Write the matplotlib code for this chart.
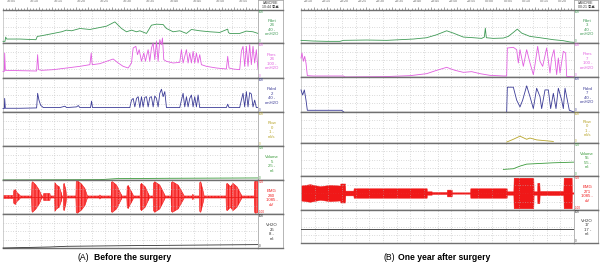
import numpy as np
import matplotlib
matplotlib.use('Agg')
import matplotlib.pyplot as plt

plt.rcParams['font.family'] = ['Liberation Sans', 'Noto Sans CJK KR', 'DejaVu Sans']
plt.rcParams['hatch.linewidth'] = 0.8

# ---- data (x in screen units read from the trace strip) ----
# (A) before the surgery
a_pdet_x = [9, 15, 17, 20, 60, 108, 112, 125, 160, 185, 200, 215, 240, 270, 300, 320, 345, 365, 380, 395, 410, 420,
            440, 455, 470, 490, 500, 520, 540, 560, 575, 600, 630, 660, 684, 686, 690, 720, 740, 760, 775]
a_pdet_y = [0.05, 0.05, 0.18, 0.12, 0.12, 0.10, 0.20, 0.22, 0.29, 0.34, 0.39, 0.37, 0.44, 0.41, 0.47, 0.51, 0.64,
            0.44, 0.34, 0.39, 0.34, 0.37, 0.29, 0.54, 0.57, 0.56, 0.44, 0.34, 0.37, 0.29, 0.41, 0.37, 0.34, 0.32, 0.42,
            0.32, 0.29, 0.29, 0.36, 0.34, 0.29]

a_pves_x = [9, 13, 14, 16, 60, 110, 113, 116, 125, 160, 200, 240, 270, 274, 277, 300, 320, 340, 355, 370, 385, 395,
            400, 408, 413, 418, 425, 432, 437, 440, 445, 450, 455, 460, 465, 470, 475, 480, 485, 488, 492, 500, 520,
            540, 545, 550, 555, 560, 565, 570, 575, 580, 585, 590, 595, 600, 605, 620, 650, 680, 684, 688, 700, 720,
            725, 730, 735, 740, 745, 750, 755, 760, 765, 770, 775]
a_pves_z = [215, 215, 160, 212, 213, 214, 165, 210, 212, 210, 205, 200, 195, 160, 195, 192, 185, 178, 190, 200, 205,
            190, 145, 140, 165, 150, 185, 160, 185, 170, 150, 185, 145, 130, 180, 125, 185, 120, 135, 115, 180, 185,
            190, 188, 150, 190, 170, 150, 190, 160, 190, 155, 190, 160, 190, 165, 195, 200, 205, 208, 170, 205, 208,
            210, 155, 140, 200, 140, 200, 135, 195, 140, 190, 150, 210]

a_pabd_x = [9, 13, 14, 16, 60, 110, 113, 117, 122, 130, 180, 195, 200, 230, 235, 240, 272, 275, 278, 300, 390, 395,
            400, 405, 410, 415, 420, 425, 430, 435, 440, 445, 450, 455, 460, 465, 470, 475, 480, 485, 490, 495, 500,
            540, 545, 550, 555, 560, 565, 570, 575, 580, 585, 590, 595, 600, 680, 684, 688, 720, 725, 730, 735, 740,
            745, 750, 755, 760, 765, 770, 775]
a_pabd_z = [325, 325, 295, 324, 324, 323, 280, 300, 315, 322, 322, 318, 322, 320, 316, 322, 322, 303, 322, 322, 322,
            300, 295, 320, 295, 290, 322, 290, 320, 292, 290, 320, 292, 290, 320, 288, 295, 320, 280, 268, 290, 275,
            322, 322, 300, 280, 320, 290, 320, 295, 285, 320, 290, 320, 285, 322, 322, 312, 322, 322, 300, 280, 320,
            275, 320, 278, 282, 320, 300, 322, 322]

a_vol_x = [9, 300, 350, 500, 775]
a_vol_y = [0.0, 0.01, 0.04, 0.05, 0.06]

a_emg_x = [9, 40, 41, 46, 52, 60, 61, 95, 96, 98, 108, 118, 125, 126, 130, 131, 150, 151, 164, 165, 170, 178, 185,
           186, 190, 191, 193, 198, 200, 228, 229, 232, 245, 255, 262, 263, 299, 300, 303, 334, 335, 338, 350, 365,
           366, 381, 382, 385, 400, 401, 421, 422, 425, 436, 448, 449, 460, 461, 465, 480, 495, 496, 514, 515, 518,
           535, 552, 553, 578, 579, 583, 599, 600, 603, 612, 613, 679, 680, 683, 692, 700, 712, 725, 726, 764, 765,
           768, 775]
a_emg_a = [0.04, 0.04, 0.18, 0.22, 0.12, 0.05, 0.03, 0.03, 0.42, 0.45, 0.35, 0.2, 0.05, 0.03, 0.03, 0.1, 0.1, 0.03,
           0.03, 0.42, 0.35, 0.3, 0.1, 0.03, 0.03, 0.38, 0.4, 0.2, 0.03, 0.03, 0.45, 0.48, 0.38, 0.25, 0.05, 0.03,
           0.03, 0.06, 0.03, 0.03, 0.44, 0.45, 0.35, 0.06, 0.03, 0.03, 0.3, 0.34, 0.06, 0.03, 0.03, 0.36, 0.4, 0.3,
           0.05, 0.03, 0.03, 0.4, 0.45, 0.35, 0.06, 0.03, 0.03, 0.42, 0.45, 0.35, 0.06, 0.03, 0.03, 0.08, 0.03, 0.03,
           0.42, 0.45, 0.1, 0.03, 0.03, 0.38, 0.4, 0.3, 0.4, 0.3, 0.06, 0.03, 0.03, 0.45, 0.48, 0.45]

a_vh2o_x = [9, 150, 200, 400, 775]
a_vh2o_y = [0.0, 0.03, 0.05, 0.07, 0.10]

# (B) one year after surgery
b_pdet_x = [3, 40, 80, 120, 130, 200, 260, 300, 340, 380, 410, 440, 460, 490, 520, 545, 553, 556, 559, 580, 610, 625,
            640, 652, 665, 690, 720, 760, 790, 810, 822]
b_pdet_z = [122, 124, 125, 125, 122, 121, 122, 120, 118, 114, 105, 93, 100, 112, 114, 116, 112, 85, 114, 116, 115,
            110, 98, 88, 100, 110, 114, 120, 123, 127, 128]

b_pves_x = [3, 6, 10, 14, 18, 22, 40, 130, 135, 250, 330, 380, 410, 440, 465, 490, 515, 540, 570, 610, 620, 622, 640,
            650, 655, 660, 670, 680, 690, 700, 705, 713, 720, 728, 740, 750, 755, 762, 770, 775, 780, 790, 797, 800,
            822]
b_pves_z = [175, 160, 185, 170, 190, 228, 229, 229, 232, 231, 228, 222, 212, 203, 212, 218, 216, 222, 227, 229, 229,
            145, 143, 150, 190, 150, 200, 150, 190, 225, 195, 140, 185, 200, 145, 220, 175, 150, 225, 175, 220, 155,
            160, 230, 232]

b_pabd_x = [3, 8, 13, 18, 22, 60, 125, 135, 300, 550, 554, 556, 558, 600, 620, 622, 640, 650, 660, 668, 680, 690, 700,
            710, 720, 725, 735, 745, 752, 760, 768, 775, 785, 790, 795, 800, 808, 822]
b_pabd_z = [270, 285, 270, 300, 330, 330, 330, 338, 337, 337, 340, 368, 340, 337, 337, 262, 262, 300, 320, 300, 258,
            290, 325, 265, 290, 325, 270, 270, 325, 280, 325, 265, 300, 325, 265, 290, 330, 335]

b_flow_x = [620, 640, 660, 680, 690, 710, 730, 760]
b_flow_y = [0.03, 0.12, 0.22, 0.12, 0.16, 0.10, 0.08, 0.05]

b_vol_x = [610, 640, 660, 680, 720, 760, 822]
b_vol_y = [0.20, 0.22, 0.30, 0.36, 0.38, 0.40, 0.42]

b_emg_x = [3, 30, 60, 90, 120, 121, 135, 136, 160, 161, 380, 381, 395, 396, 430, 440, 441, 455, 456, 510, 511, 620,
           621, 640, 641, 700, 701, 711, 712, 718, 719, 790, 791, 815, 816, 822]
b_emg_a = [0.22, 0.26, 0.2, 0.24, 0.22, 0.28, 0.28, 0.07, 0.07, 0.14, 0.14, 0.05, 0.05, 0.03, 0.03, 0.03, 0.1, 0.1,
           0.02, 0.02, 0.14, 0.14, 0.05, 0.05, 0.45, 0.45, 0.05, 0.05, 0.3, 0.3, 0.06, 0.06, 0.45, 0.45, 0.02, 0.02]

b_vh2o_x = [3, 822]
b_vh2o_y = [0.42, 0.42]

left_ticks = ['10:05', '10:10', '10:15', '10:20', '10:25', '10:30', '10:35', '10:40', '10:45', '10:50', '10:55']
right_ticks = ['23:10', '23:15', '23:20', '23:25', '23:30', '23:35', '23:40', '23:45', '23:50', '23:55', '00:00',
               '00:05', '00:10', '00:15', '00:20']

labels_a = ['Pdet\n24\n40 -\ncmH2O', 'Pves\n24\n100 -\ncmH2O', 'Pabd\n2\n40 -\ncmH2O', 'Flow\n0\n1 -\nml/s',
            'Volume\n5\n25 -\nml', 'EMG\n240\n1085 -\nuV', 'VH2O\n25\n8 -\nml']
labels_b = ['Pdet\n3\n40 -\ncmH2O', 'Pves\n7\n100 -\ncmH2O', 'Pabd\n7\n40 -\ncmH2O', 'Flow\n0\n1 -\nml/s',
            'Volume\n55\n55 -\nml', 'EMG\n271\n1085 -\nuV', 'VH2O\n17\n17 -\nml']
colors = ['#3f9a55', '#e15ee0', '#3b3b96', '#b8a52a', '#3a9a3a', '#f01818', '#333333']
top_marks = ['100', '100', '100', '100', '500', '500', '100']
bot_marks = ['0', '0', '0', '0', '0', '-500', '0']

W, H = 600, 268
fig = plt.figure(figsize=(6.0, 2.68), dpi=100)


def rect(x0, y0, x1, y1):
    return [x0 / W, 1 - y1 / H, (x1 - x0) / W, (y1 - y0) / H]


def zrow(z, top, bot):
    # convert screen height inside a strip to 0..1
    return [(bot - v) / (bot - top) for v in z]


def panel(px0, px1, pc1, rows, xlim, ticks, header, labels, traces, striped):
    # header ruler
    ax = fig.add_axes(rect(px0, 0, px1, rows[0]))
    ax.set_xlim(*xlim)
    ax.set_ylim(0, 1)
    ax.set_xticks(np.linspace(xlim[0], xlim[1], 22)[1:-1])
    ax.set_xticks(np.linspace(xlim[0], xlim[1], 85), minor=True)
    ax.tick_params(which='both', direction='in', labelbottom=False, labelleft=False, left=False,
                   color='#777777', width=0.5)
    ax.tick_params(which='major', length=2.5)
    ax.tick_params(which='minor', length=1.2)
    for s in ax.spines.values():
        s.set_visible(False)
    pos = np.linspace(xlim[0], xlim[1], len(ticks) + 1)[:-1] + (xlim[1] - xlim[0]) / (len(ticks) + 1) * 0.4
    for p, t in zip(pos, ticks):
        ax.text(p, 0.9, t, fontsize=2.6, color='#666666', ha='center', va='center')
    hc = fig.add_axes(rect(px1, 0, pc1, rows[0]))
    hc.set_xticks([])
    hc.set_yticks([])
    for s in hc.spines.values():
        s.set_color('#999999')
        s.set_linewidth(0.5)
    hc.text(0.5, 0.5, header, fontsize=2.6, ha='center', va='center', linespacing=1.1, color='#333333')

    for i in range(7):
        ax = fig.add_axes(rect(px0, rows[i], px1, rows[i + 1]))
        ax.set_xlim(*xlim)
        if i == 5:
            ax.set_ylim(-0.5, 0.5)
            ax.set_yticks([-0.25, 0, 0.25])
        else:
            ax.set_ylim(0, 1)
            ax.set_yticks([0.25, 0.5, 0.75])
        ax.set_xticks(np.linspace(xlim[0], xlim[1], 21)[1:-1])
        ax.grid(True, linestyle=(0, (1, 2.5)), color='#b8b8b8', linewidth=0.5)
        ax.tick_params(length=0, labelleft=False, labelbottom=False)
        for k in ['top', 'bottom']:
            ax.spines[k].set_color('#707070')
            ax.spines[k].set_linewidth(1.0)
        ax.spines['left'].set_color('#bbbbbb')
        ax.spines['left'].set_linewidth(0.5)
        ax.spines['right'].set_color('#888888')
        ax.spines['right'].set_linewidth(0.6)
        tr = traces[i]
        if tr is not None:
            if i == 5:
                neg = [-a for a in tr[1]]
                if striped:
                    ax.fill_between(tr[0], neg, tr[1], facecolor='#ff5a5a', edgecolor=colors[i],
                                    hatch='|||||', linewidth=0.4)
                else:
                    ax.fill_between(tr[0], neg, tr[1], color=colors[i], linewidth=0.3)
                ax.plot(tr[0], [0] * len(tr[0]), color=colors[i], lw=0.6)
            else:
                ax.plot(tr[0], tr[1], color=colors[i], lw=0.6, clip_on=False, zorder=3)

        lc = fig.add_axes(rect(px1, rows[i], pc1, rows[i + 1]))
        lc.set_xlim(0, 1)
        lc.set_ylim(0, 1)
        lc.set_xticks([])
        lc.set_yticks([])
        for k, s in lc.spines.items():
            s.set_color('#707070' if k in ('top', 'bottom') else '#999999')
            s.set_linewidth(1.0 if k in ('top', 'bottom') else 0.5)
        lc.text(0.55, 0.47, labels[i], color=colors[i], fontsize=3.1, ha='center', va='center', linespacing=1.15)
        lc.text(0.04, 0.93, top_marks[i], color=colors[i], fontsize=2.2, ha='left', va='center')
        lc.text(0.04, 0.07, bot_marks[i], color=colors[i], fontsize=2.2, ha='left', va='center')


rows_a = [10, 43, 78, 112, 146, 180, 214, 248]
rows_b = [10, 43, 77, 112, 143, 176, 210, 243]

traces_a = [
    (a_pdet_x, a_pdet_y),
    (a_pves_x, zrow(a_pves_z, 130, 235)),
    (a_pabd_x, zrow(a_pabd_z, 235, 335)),
    None,
    (a_vol_x, a_vol_y),
    (a_emg_x, a_emg_a),
    (a_vh2o_x, a_vh2o_y),
]
traces_b = [
    (b_pdet_x, zrow(b_pdet_z, 30, 130)),
    (b_pves_x, zrow(b_pves_z, 130, 232)),
    (b_pabd_x, zrow(b_pabd_z, 232, 335)),
    (b_flow_x, b_flow_y),
    (b_vol_x, b_vol_y),
    (b_emg_x, b_emg_a),
    (b_vh2o_x, b_vh2o_y),
]

panel(3, 258, 283, rows_a, (9, 775), left_ticks, 'LABORIE\n10:44 종료', labels_a, traces_a, True)
panel(301, 574, 598, rows_b, (3, 822), right_ticks, 'LABORIE\n00:21 종료', labels_b, traces_b, False)

# captions
fig.text(77 / W, 1 - 258 / H, '(A)', fontsize=6.2, ha='left', va='center')
fig.text(94 / W, 1 - 258 / H, 'Before the surgery', fontsize=6.2, fontweight='bold', ha='left', va='center')
fig.text(383 / W, 1 - 258 / H, '(B)', fontsize=6.2, ha='left', va='center')
fig.text(398 / W, 1 - 258 / H, 'One year after surgery', fontsize=6.2, fontweight='bold', ha='left', va='center')

fig.savefig('out.png', dpi=100, facecolor='white')
